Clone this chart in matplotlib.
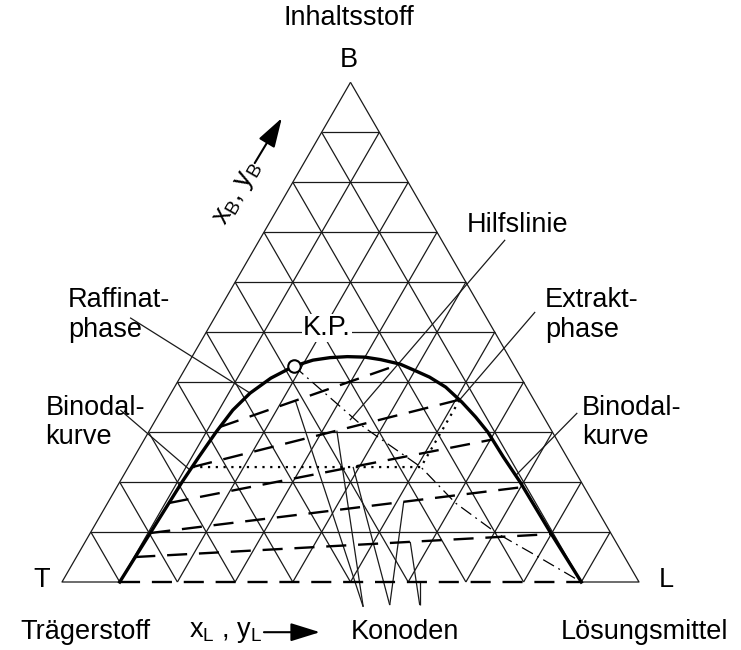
import numpy as np
import matplotlib.pyplot as plt

plt.rcParams['font.family'] = ['Liberation Sans', 'DejaVu Sans']
plt.rcParams['mathtext.fontset'] = 'custom'
plt.rcParams['mathtext.rm'] = 'Liberation Sans'
plt.rcParams['mathtext.it'] = 'Liberation Sans:italic'

H = np.sqrt(3) / 2
FS = 19.5

# binodal curve (x_L, x_B)
binodal_xl = [0.100, 0.102, 0.104, 0.106, 0.108, 0.112, 0.117, 0.124, 0.137, 0.158,
              0.186, 0.213, 0.240, 0.269, 0.300, 0.330, 0.368, 0.398, 0.432, 0.470,
              0.513, 0.552, 0.588, 0.640, 0.694, 0.745, 0.796, 0.848, 0.900]
binodal_xb = [0.000, 0.050, 0.100, 0.150, 0.200, 0.250, 0.300, 0.344, 0.378, 0.408,
              0.432, 0.444, 0.449, 0.451, 0.450, 0.445, 0.436, 0.424, 0.410, 0.390,
              0.360, 0.330, 0.300, 0.250, 0.200, 0.150, 0.100, 0.050, 0.000]

# tie lines (Konoden): raffinate end and extract end
raff_xl = [0.100, 0.102, 0.104, 0.106, 0.111, 0.118]
raff_xb = [0.000, 0.050, 0.098, 0.158, 0.230, 0.310]
extr_xl = [0.900, 0.801, 0.704, 0.603, 0.507, 0.368]
extr_xb = [0.000, 0.096, 0.190, 0.285, 0.365, 0.436]

# plait point
kp_xl, kp_xb = 0.186, 0.432

# tie line used for the dotted construction
aux_tie = 4

# Konoden leaders: foot point, tie line index, position along tie line
kon_feet = [(0.522, -0.043), (0.522, -0.043), (0.568, -0.040), (0.568, -0.040),
            (0.620, -0.040), (0.620, -0.040)]
kon_ties = [5, 4, 3, 2, 1, 0]
kon_pos = [0.42, 0.54, 0.57, 0.68, 0.66, 0.65]


def cart(xl, xb):
    xl = np.asarray(xl, float)
    xb = np.asarray(xb, float)
    return xl + xb / 2, xb * H


fig = plt.figure(figsize=(7.41, 6.5), dpi=100)
ax = fig.add_axes([0, 0, 1, 1])
ax.set_xlim(-62 / 577, (741 - 62) / 577)
ax.set_ylim((582 - 650) / 577, 582 / 577)
ax.axis('off')

thin = dict(color='#1a1a1a', lw=0.9, solid_capstyle='butt')

# grid
for k in range(1, 10):
    f = k / 10
    ax.plot(*cart([0, 1 - f], [f, f]), **thin)
    ax.plot(*cart([f, f], [0, 1 - f]), **thin)
    ax.plot(*cart([1 - f, 0], [0, 1 - f]), **thin)

# triangle border (base is open where the bottom tie line runs)
ax.plot(*cart([raff_xl[0], 0, 0], [0, 0, 1]), **thin)
ax.plot(*cart([extr_xl[0], 1, 0], [0, 0, 1]), **thin)

# binodal
ax.plot(*cart(binodal_xl, binodal_xb), color='black', lw=2.4, zorder=4,
        solid_joinstyle='round')

# tie lines
for i in range(len(raff_xl)):
    ax.plot(*cart([raff_xl[i], extr_xl[i]], [raff_xb[i], extr_xb[i]]),
            color='black', lw=1.7, linestyle=(0, (8.5, 5)), zorder=3)

# dotted construction for one tie line
c = aux_tie
ax.plot(*cart([raff_xl[c], extr_xl[c], extr_xl[c]], [raff_xb[c], raff_xb[c], extr_xb[c]]),
        color='black', lw=1.6, linestyle=(0, (1, 2.5)), zorder=3)

# Hilfslinie through the construction points up to the plait point
hl_xl = [kp_xl] + extr_xl[::-1]
hl_xb = [kp_xb] + raff_xb[::-1]
ax.plot(*cart(hl_xl, hl_xb), color='black', lw=0.9, linestyle=(0, (10, 4, 1.5, 4)), zorder=3)

# plait point
ax.plot(*cart(kp_xl, kp_xb), 'o', ms=9, mfc='white', mec='black', mew=1.5, zorder=6)


# leader lines
def leader(start, target_xl, target_xb):
    tx, ty = cart(target_xl, target_xb)
    ax.plot([start[0], tx], [start[1], ty], **thin)


leader((0.768, 0.593), 0.337, 0.324)                        # Hilfslinie
leader((0.820, 0.468), extr_xl[aux_tie], extr_xb[aux_tie])  # Extraktphase
leader((0.118, 0.458), 0.137, 0.378)                        # Raffinatphase
leader((0.101, 0.298), 0.110, 0.224)                        # Binodalkurve links
leader((0.893, 0.293), 0.680, 0.214)                        # Binodalkurve rechts
for foot, t, s in zip(kon_feet, kon_ties, kon_pos):
    xl = raff_xl[t] + s * (extr_xl[t] - raff_xl[t])
    xb = raff_xb[t] + s * (extr_xb[t] - raff_xb[t])
    leader(foot, xl, xb)

# labels
ax.text(0.497, 0.977, 'Inhaltsstoff', fontsize=FS, ha='center', va='center')
ax.text(0.497, 0.905, 'B', fontsize=FS, ha='center', va='center')
ax.text(-0.035, 0.003, 'T', fontsize=FS, ha='center', va='center')
ax.text(1.047, 0.003, 'L', fontsize=FS, ha='center', va='center')
ax.text(0.040, -0.087, 'Trägerstoff', fontsize=FS, ha='center', va='center')
ax.text(1.010, -0.087, 'Lösungsmittel', fontsize=FS, ha='center', va='center')
ax.text(0.594, -0.087, 'Konoden', fontsize=FS, ha='center', va='center')
ax.text(0.283, -0.087, r'x$_\mathrm{L}$ , y$_\mathrm{L}$', fontsize=FS, ha='center', va='center')
ax.annotate('', xy=(0.447, -0.087), xytext=(0.350, -0.087),
            arrowprops=dict(arrowstyle='-|>,head_length=0.9,head_width=0.28', lw=1.5,
                            color='black', mutation_scale=20, shrinkA=0, shrinkB=0))
ax.text(0.305, 0.674, r'x$_\mathrm{B}$, y$_\mathrm{B}$', fontsize=FS, ha='center', va='center',
        rotation=60, rotation_mode='anchor')
ax.annotate('', xy=(0.381, 0.804), xytext=(0.334, 0.726),
            arrowprops=dict(arrowstyle='-|>,head_length=0.9,head_width=0.28', lw=1.5,
                            color='black', mutation_scale=20, shrinkA=0, shrinkB=0))
ax.text(0.789, 0.619, 'Hilfslinie', fontsize=FS, ha='center', va='center')
ax.text(0.837, 0.489, 'Extrakt-', fontsize=FS, ha='left', va='center')
ax.text(0.837, 0.437, 'phase', fontsize=FS, ha='left', va='center')
ax.text(0.010, 0.489, 'Raffinat-', fontsize=FS, ha='left', va='center')
ax.text(0.010, 0.437, 'phase', fontsize=FS, ha='left', va='center')
ax.text(0.459, 0.440, 'K.P.', fontsize=FS, ha='center', va='center',
        bbox=dict(facecolor='white', edgecolor='none', pad=1))
ax.text(-0.029, 0.302, 'Binodal-', fontsize=FS, ha='left', va='center')
ax.text(-0.029, 0.251, 'kurve', fontsize=FS, ha='left', va='center')
ax.text(0.901, 0.302, 'Binodal-', fontsize=FS, ha='left', va='center')
ax.text(0.901, 0.251, 'kurve', fontsize=FS, ha='left', va='center')

fig.savefig('out.png', dpi=100)
